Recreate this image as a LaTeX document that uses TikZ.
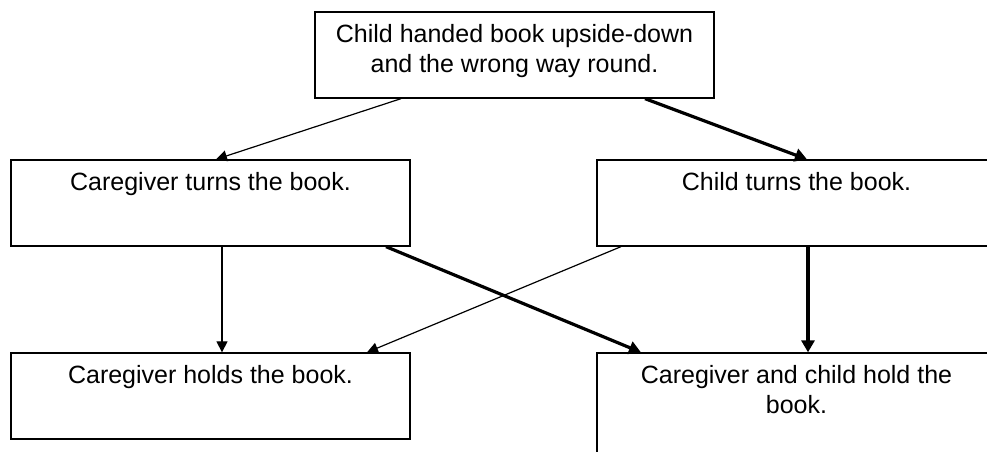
\documentclass[tikz,border=0pt]{standalone}
\usepackage{fontspec}
\setmainfont{Liberation Sans}
\usetikzlibrary{arrows.meta}
\tikzset{
  boite/.style={draw, line width=1.3pt, minimum width=399pt, inner sep=0pt},
  texte/.style={anchor=north, inner sep=0pt, align=center, font=\fontsize{25}{30}\selectfont},
  fin/.style={line width=1.2pt, -{Triangle[length=11pt,width=11pt]}},
  epais/.style={line width=3.2pt, -{Triangle[length=12pt,width=13pt]}}
}
\begin{document}
\begin{tikzpicture}[x=1pt, y=-1pt]
\useasboundingbox (0,0) rectangle (987,452);
\clip (0,0) rectangle (987,452);
% Boites
\node[boite, minimum height=86pt] (depart) at (514.5,55) {};
\node[boite, minimum height=86pt] (adulteTourne) at (210.5,203) {};
\node[boite, minimum height=86pt] (enfantTourne) at (796.5,203) {};
\node[boite, minimum height=86pt] (adulteTient) at (210.5,396) {};
\node[boite, minimum height=127pt] (ensembleTient) at (796.5,416.5) {};
% Textes
\node[texte] (t0) at ([yshift=-13pt]depart.north) {Child handed book upside-down\\and the wrong way round.};
\node[texte] (t1) at ([yshift=-13pt]adulteTourne.north) {Caregiver turns the book.};
\node[texte] (t2) at ([yshift=-13pt]enfantTourne.north) {Child turns the book.};
\node[texte] (t3) at ([yshift=-13pt]adulteTient.north) {Caregiver holds the book.};
\node[texte] (t4) at ([yshift=-13pt]ensembleTient.north) {Caregiver and child hold the\\book.};
% Fleches
\draw[fin] ([xshift=-113.5pt]depart.south) -- ([xshift=5.5pt]adulteTourne.north);
\draw[epais] ([xshift=130.5pt]depart.south) -- ([xshift=10.5pt]enfantTourne.north);
\draw[fin] ([xshift=11.5pt]adulteTourne.south) -- ([xshift=11.5pt]adulteTient.north);
\draw[epais] ([xshift=175.5pt]adulteTourne.south) -- ([xshift=-155.5pt]ensembleTient.north);
\draw[fin] ([xshift=-175.5pt]enfantTourne.south) -- ([xshift=156.5pt]adulteTient.north);
\draw[epais] ([xshift=11.5pt]enfantTourne.south) -- ([xshift=11.5pt]ensembleTient.north);
\end{tikzpicture}
\end{document}
